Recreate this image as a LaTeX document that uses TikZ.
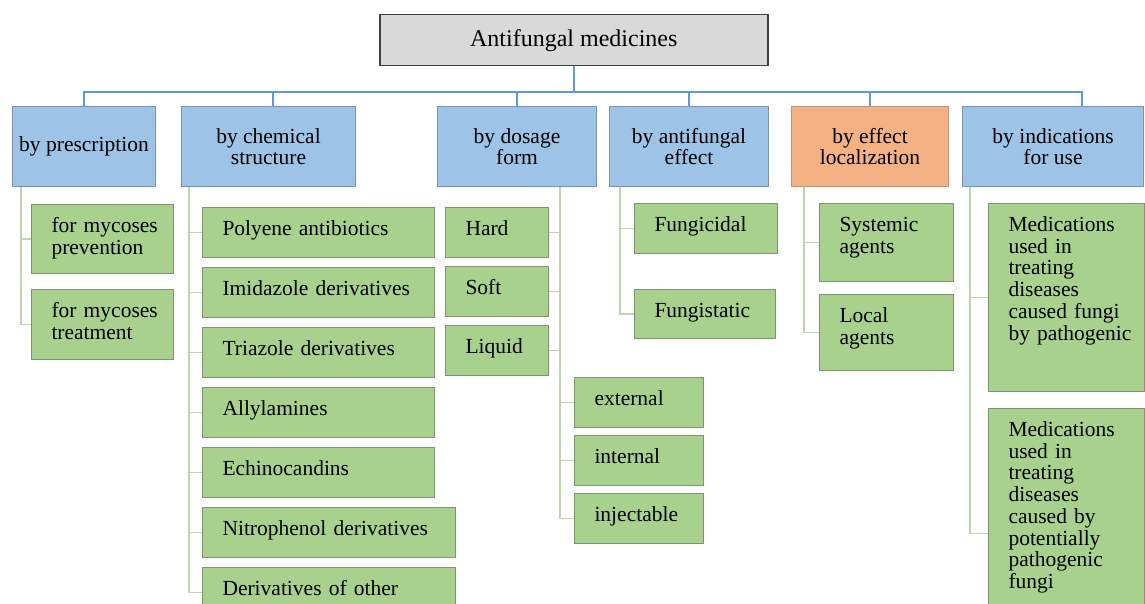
\documentclass[tikz,border=0pt]{standalone}
\usepackage{fontspec}
\setmainfont{Liberation Serif}
\usetikzlibrary{positioning}
\definecolor{rootgray}{RGB}{217,217,217}
\definecolor{rootline}{RGB}{64,64,64}
\definecolor{catblue}{RGB}{157,195,230}
\definecolor{catline}{RGB}{120,148,178}
\definecolor{catorange}{RGB}{244,177,131}
\definecolor{orangeline}{RGB}{190,150,120}
\definecolor{leafgreen}{RGB}{169,209,142}
\definecolor{leafline}{RGB}{128,146,112}
\definecolor{trunkblue}{RGB}{91,155,213}
\definecolor{twiggreen}{RGB}{190,215,170}
\hyphenpenalty=10000
\exhyphenpenalty=10000

\begin{document}
\begin{tikzpicture}[x=1pt, y=-1pt,
  every node/.style={font=\fontsize{21.5}{21.7}\selectfont},
  cat/.style={draw=catline, line width=1pt, fill=catblue, anchor=north west, minimum height=80pt, inner sep=0pt, align=center},
  leaf/.style={draw=leafline, line width=1pt, fill=leafgreen, anchor=north west, inner xsep=20pt, inner ysep=0pt, align=left, text height=28pt, text depth={#1pt-28pt}},
  trunk/.style={draw=trunkblue, line width=2pt},
  twig/.style={draw=twiggreen, line width=1.5pt}]
\fill[white] (0,0) rectangle (1145,604);
\useasboundingbox (0,0) rectangle (1145,604);

\node[draw=rootline, line width=1.5pt, fill=rootgray, anchor=north west, minimum width=388pt, minimum height=51pt, font=\fontsize{24}{26}\selectfont] (root) at (379,14) {Antifungal medicines};
\coordinate (bus) at ([yshift=-26pt]root.south);

\node[cat, minimum width=143pt] (presc) at (12,106) {by prescription};
\node[cat, minimum width=174pt] (chem) at (181,106) {by chemical\\structure};
\node[cat, minimum width=159pt] (dose) at (437,106) {by dosage\\form};
\node[cat, minimum width=159pt] (effect) at (609,106) {by antifungal\\effect};
\node[cat, fill=catorange, draw=orangeline, minimum width=157pt] (local) at (791,106) {by effect\\localization};
\node[cat, minimum width=181pt] (indic) at (962,106) {by indications\\for use};

\draw[trunk] (root.south) -- (bus);
\draw[trunk] (bus) -| (presc.north);
\draw[trunk] (bus) -| ([xshift=4pt]chem.north);
\draw[trunk] (bus) -| (dose.north);
\draw[trunk] (bus) -| (effect.north);
\draw[trunk] (bus) -| (local.north);
\draw[trunk] (bus) -| ([xshift=29pt]indic.north);

\node[leaf=69, text width=102pt] (prevent) at (31,204) {for~mycoses\\prevention};
\node[leaf=70, text width=102pt, below=15pt of prevent.south west, anchor=north west] (treat) {for~mycoses\\treatment};

\node[leaf=50, text width=192pt] (polyene) at (202,207) {Polyene antibiotics};
\node[leaf=50, text width=192pt, below=9pt of polyene.south west, anchor=north west] (imidazole) {Imidazole derivatives};
\node[leaf=50, text width=192pt, below=9pt of imidazole.south west, anchor=north west] (triazole) {Triazole derivatives};
\node[leaf=50, text width=192pt, below=9pt of triazole.south west, anchor=north west] (allyl) {Allylamines};
\node[leaf=50, text width=192pt, below=9pt of allyl.south west, anchor=north west] (echino) {Echinocandins};
\node[leaf=50, text width=213pt, below=9pt of echino.south west, anchor=north west] (nitro) {Nitrophenol derivatives};
\node[leaf=50, text width=213pt, below=9pt of nitro.south west, anchor=north west] (other) {Derivatives of other};

\node[leaf=50, text width=63pt] (hard) at (445,207) {Hard};
\node[leaf=50, text width=63pt, below=8pt of hard.south west, anchor=north west] (soft) {Soft};
\node[leaf=50, text width=63pt, below=8pt of soft.south west, anchor=north west] (liquid) {Liquid};
\node[leaf=50, text width=89pt] (external) at (574,377) {external};
\node[leaf=50, text width=89pt, below=7pt of external.south west, anchor=north west] (internal) {internal};
\node[leaf=50, text width=89pt, below=7pt of internal.south west, anchor=north west] (inject) {injectable};

\node[leaf=50, text width=103pt] (cidal) at (634,203) {Fungicidal};
\node[leaf=49, text width=101pt, below=35pt of cidal.south west, anchor=north west] (static) {Fungistatic};

\node[leaf=78, text width=94pt] (systemic) at (819,203) {Systemic\\agents};
\node[leaf=76, text width=94pt, below=12pt of systemic.south west, anchor=north west] (localag) {Local\\agents};

\node[leaf=188, text width=116pt] (medpath) at (988,203) {Medications\\used in\\treating\\diseases\\caused fungi\\by~pathogenic};
\node[leaf=250, text width=116pt, below=16pt of medpath.south west, anchor=north west] (medpot) {Medications\\used in\\treating\\diseases\\caused by\\potentially\\pathogenic\\fungi};

\draw[twig] ([xshift=9pt]presc.south west) |- (prevent.west);
\draw[twig] ([xshift=9pt]presc.south west) |- (treat.west);
\draw[twig] ([xshift=8pt]chem.south west) |- (polyene.west);
\draw[twig] ([xshift=8pt]chem.south west) |- (imidazole.west);
\draw[twig] ([xshift=8pt]chem.south west) |- (triazole.west);
\draw[twig] ([xshift=8pt]chem.south west) |- (allyl.west);
\draw[twig] ([xshift=8pt]chem.south west) |- (echino.west);
\draw[twig] ([xshift=8pt]chem.south west) |- (nitro.west);
\draw[twig] ([xshift=8pt]chem.south west) |- (other.west);
\draw[twig] ([xshift=-37pt]dose.south east) |- (hard.east);
\draw[twig] ([xshift=-37pt]dose.south east) |- (soft.east);
\draw[twig] ([xshift=-37pt]dose.south east) |- (liquid.east);
\draw[twig] ([xshift=-37pt]dose.south east) |- (external.west);
\draw[twig] ([xshift=-37pt]dose.south east) |- (internal.west);
\draw[twig] ([xshift=-37pt]dose.south east) |- (inject.west);
\draw[twig] ([xshift=11pt]effect.south west) |- (cidal.west);
\draw[twig] ([xshift=11pt]effect.south west) |- (static.west);
\draw[twig] ([xshift=13pt]local.south west) |- (systemic.west);
\draw[twig] ([xshift=13pt]local.south west) |- (localag.west);
\draw[twig] ([xshift=8pt]indic.south west) |- (medpath.west);
\draw[twig] ([xshift=8pt]indic.south west) |- (medpot.west);
\end{tikzpicture}
\end{document}
